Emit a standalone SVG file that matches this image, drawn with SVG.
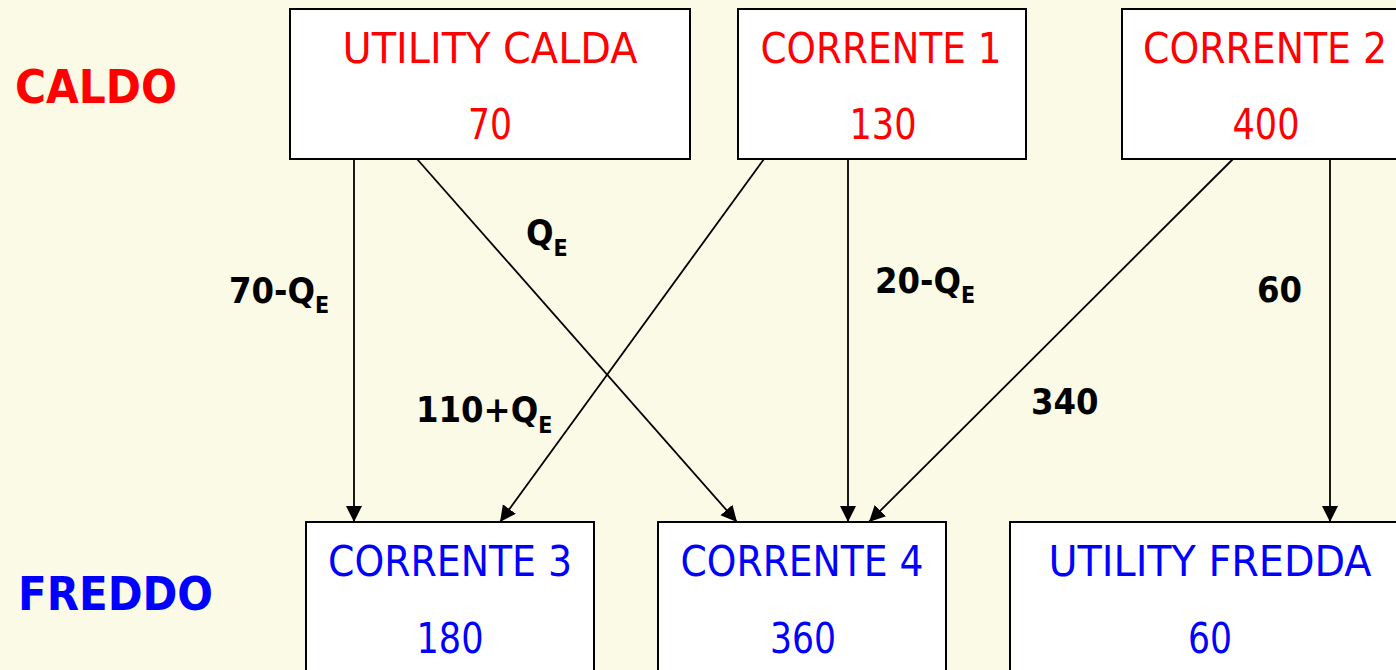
<svg xmlns="http://www.w3.org/2000/svg" width="1396" height="670" viewBox="0 0 1396 670">
<style>
.box{fill:#ffffff;stroke:#000000;stroke-width:2}
.hot{fill:#ff0000;font-family:"DejaVu Sans Condensed","DejaVu Sans",sans-serif;font-size:42px;text-anchor:middle}
.cold{fill:#0000ff;font-family:"DejaVu Sans Condensed","DejaVu Sans",sans-serif;font-size:42px;text-anchor:middle}
.side{font-family:"DejaVu Sans Condensed","DejaVu Sans",sans-serif;font-size:47px;font-weight:bold}
.lbl{fill:#000000;font-family:"DejaVu Sans Condensed","DejaVu Sans",sans-serif;font-size:36px;font-weight:bold}
.sub{font-size:23px}
.edge{stroke:#000000;stroke-width:1.8;fill:none;marker-end:url(#arr)}
</style>
<defs>
<marker id="arr" markerUnits="userSpaceOnUse" markerWidth="17" markerHeight="17" refX="16" refY="8" orient="auto">
<path d="M0,0 L16,8 L0,16 z" fill="#000000"/>
</marker>
</defs>
<rect x="0" y="0" width="1396" height="670" fill="#fafae6"/>
<text class="side" x="15" y="103" fill="#ff0000" textLength="162" lengthAdjust="spacingAndGlyphs">CALDO</text>
<text class="side" x="18" y="610" fill="#0000ff" textLength="195" lengthAdjust="spacingAndGlyphs">FREDDO</text>
<g id="utility-calda">
<rect class="box" x="290" y="9" width="400" height="150"/>
<text class="hot" x="490" y="63" textLength="295" lengthAdjust="spacingAndGlyphs">UTILITY CALDA</text>
<text class="hot" x="490" y="139" textLength="44" lengthAdjust="spacingAndGlyphs">70</text>
</g>
<g id="corrente-1">
<rect class="box" x="738" y="9" width="288" height="150"/>
<text class="hot" x="881" y="63" textLength="241" lengthAdjust="spacingAndGlyphs">CORRENTE 1</text>
<text class="hot" x="883" y="139" textLength="67" lengthAdjust="spacingAndGlyphs">130</text>
</g>
<g id="corrente-2">
<rect class="box" x="1122" y="9" width="288" height="150"/>
<text class="hot" x="1265" y="63" textLength="244" lengthAdjust="spacingAndGlyphs">CORRENTE 2</text>
<text class="hot" x="1266" y="139" textLength="67" lengthAdjust="spacingAndGlyphs">400</text>
</g>
<g id="corrente-3">
<rect class="box" x="306" y="522" width="288" height="160"/>
<text class="cold" x="450" y="576" textLength="244" lengthAdjust="spacingAndGlyphs">CORRENTE 3</text>
<text class="cold" x="450" y="653" textLength="67" lengthAdjust="spacingAndGlyphs">180</text>
</g>
<g id="corrente-4">
<rect class="box" x="658" y="522" width="288" height="160"/>
<text class="cold" x="802" y="576" textLength="243" lengthAdjust="spacingAndGlyphs">CORRENTE 4</text>
<text class="cold" x="803" y="653" textLength="66" lengthAdjust="spacingAndGlyphs">360</text>
</g>
<g id="utility-fredda">
<rect class="box" x="1010" y="522" width="400" height="160"/>
<text class="cold" x="1210" y="576" textLength="323" lengthAdjust="spacingAndGlyphs">UTILITY FREDDA</text>
<text class="cold" x="1210" y="653" textLength="44" lengthAdjust="spacingAndGlyphs">60</text>
</g>
<g id="connectors">
<path class="edge" d="M354,159 L354,522"/>
<path class="edge" d="M417,159 L737,522"/>
<path class="edge" d="M764,159 L500,522"/>
<path class="edge" d="M848,159 L848,522"/>
<path class="edge" d="M1233,159 L869,522"/>
<path class="edge" d="M1330,159 L1330,522"/>
</g>
<g id="labels">
<text class="lbl" x="229" y="303">70-Q<tspan class="sub" dy="10">E</tspan></text>
<text class="lbl" x="526" y="245">Q<tspan class="sub" dy="11">E</tspan></text>
<text class="lbl" x="416" y="422">110+Q<tspan class="sub" dy="11">E</tspan></text>
<text class="lbl" x="875" y="293">20-Q<tspan class="sub" dy="10">E</tspan></text>
<text class="lbl" x="1031" y="414">340</text>
<text class="lbl" x="1257" y="302">60</text>
</g>
</svg>
